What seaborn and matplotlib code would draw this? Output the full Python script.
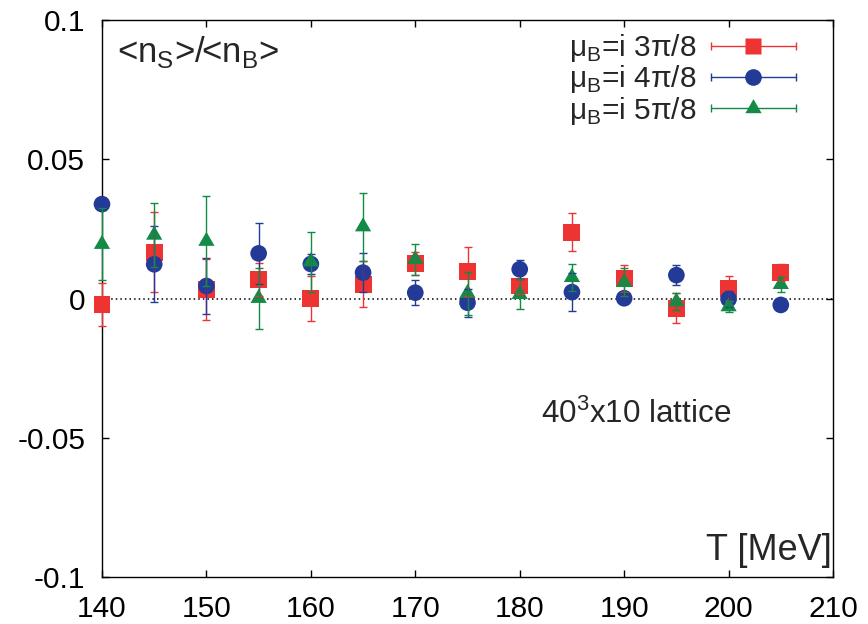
import numpy as np
import pandas as pd
import matplotlib
matplotlib.use("Agg")
import matplotlib.pyplot as plt
import seaborn as sns
from matplotlib.lines import Line2D
from matplotlib.legend_handler import HandlerBase

# temperatures and the three imaginary chemical potentials
temps = [140, 145, 150, 155, 160, 165, 170, 175, 180, 185, 190, 195, 200, 205]

ratio_3pi8 = [-0.0021, 0.0166, 0.0033, 0.0069, 0.0000, 0.0051, 0.0126,
              0.0098, 0.0045, 0.0238, 0.0072, -0.0035, 0.0037, 0.0094]
err_3pi8 = [0.0078, 0.0143, 0.0109, 0.0060, 0.0081, 0.0083, 0.0040,
            0.0088, 0.0030, 0.0069, 0.0050, 0.0054, 0.0045, 0.0030]

ratio_4pi8 = [0.0339, 0.0123, 0.0045, 0.0162, 0.0124, 0.0093, 0.0021,
              -0.0015, 0.0105, 0.0023, 0.0001, 0.0084, -0.0002, -0.0023]
err_4pi8 = [0.0020, 0.0136, 0.0102, 0.0110, 0.0036, 0.0070, 0.0045,
            0.0050, 0.0034, 0.0068, 0.0020, 0.0035, 0.0030, 0.0010]

ratio_5pi8 = [0.0195, 0.0228, 0.0206, 0.0001, 0.0132, 0.0258, 0.0141,
              0.0019, 0.0015, 0.0076, 0.0058, -0.0011, -0.0029, 0.0051]
err_5pi8 = [0.0130, 0.0116, 0.0162, 0.0110, 0.0107, 0.0122, 0.0056,
            0.0077, 0.0054, 0.0049, 0.0050, 0.0030, 0.0020, 0.0027]

labels = ["μ$_\\mathregular{B}$=i 3π/8", "μ$_\\mathregular{B}$=i 4π/8", "μ$_\\mathregular{B}$=i 5π/8"]
colors = ["#ee3333", "#233a96", "#138a45"]
markers = ["s", "o", (3, 0, 0)]
sizes = [12.2, 12.0, 13.5]

xticks = [140, 150, 160, 170, 180, 190, 200, 210]
yticks = [-0.1, -0.05, 0, 0.05, 0.1]
ytick_labels = ["-0.1", "-0.05", "0", "0.05", "0.1"]

FS = 21.5

sns.set_theme(style="ticks")
plt.rcParams["font.family"] = ["Liberation Sans", "DejaVu Sans"]
plt.rcParams["mathtext.fontset"] = "custom"
plt.rcParams["mathtext.rm"] = "Liberation Sans"
plt.rcParams["axes.unicode_minus"] = False

df = pd.concat([
    pd.DataFrame({"T": temps, "ratio": r, "err": e, "series": lab})
    for r, e, lab in zip([ratio_3pi8, ratio_4pi8, ratio_5pi8],
                         [err_3pi8, err_4pi8, err_5pi8], labels)
], ignore_index=True)

fig = plt.figure(figsize=(8.68, 6.24), dpi=100)
ax = fig.add_axes([0.1175, 0.0753, 0.8422, 0.8926])

ax.axhline(0, color="black", ls=(0, (1, 2)), lw=1.1, zorder=0)

for lab, col, mk, ms in zip(labels, colors, markers, sizes):
    sub = df[df["series"] == lab]
    sns.scatterplot(data=sub, x="T", y="ratio", ax=ax, color=col, marker=mk,
                    s=ms ** 2, edgecolor="none", linewidth=0, legend=False,
                    zorder=3, clip_on=False)
    ax.errorbar(sub["T"], sub["ratio"], yerr=sub["err"], fmt="none", ecolor=col,
                elinewidth=1.0, capsize=2.9, capthick=1.0, zorder=4, clip_on=False)


class HandlerHBar(HandlerBase):
    # gnuplot-style key: horizontal bar with end caps and the point in the middle
    def create_artists(self, legend, orig_handle, xdescent, ydescent, width, height,
                       fontsize, trans):
        y = height / 2 - ydescent
        x0, x1 = -xdescent, width - xdescent
        col = orig_handle.get_color()
        bar = Line2D([x0, x1], [y, y], color=col, lw=1.0)
        caps = Line2D([x0, x1], [y, y], color=col, ls="none", marker="|", ms=5.8, mew=1.0)
        pt = Line2D([(x0 + x1) / 2], [y], color=col, ls="none", marker=orig_handle.get_marker(),
                    ms=orig_handle.get_markersize(), mec="none")
        for a in (bar, caps, pt):
            a.set_transform(trans)
        return [bar, caps, pt]


handles = [Line2D([], [], color=c, marker=m, ms=s) for c, m, s in zip(colors, markers, sizes)]
ax.legend(handles, labels, handler_map={Line2D: HandlerHBar()}, loc="upper right",
          bbox_to_anchor=(0.978, 1.016), markerfirst=False, frameon=False, fontsize=FS,
          handlelength=2.85, handletextpad=0.5, labelspacing=-0.02, borderpad=0.2)

ax.set_xlim(140, 210)
ax.set_ylim(-0.1, 0.1)
ax.set_xticks(xticks)
ax.set_yticks(yticks)
ax.set_yticklabels(ytick_labels)
ax.set_xlabel("")
ax.set_ylabel("")
ax.tick_params(direction="in", length=5, width=1.0, top=True, right=True,
               labelsize=FS, colors="black")
ax.tick_params(axis="y", pad=12)
ax.tick_params(axis="x", pad=13)
for sp in ax.spines.values():
    sp.set_visible(True)
    sp.set_linewidth(1.0)
    sp.set_color("black")

ax.text(0.0205, 0.9246, "<n$_\\mathregular{S}$>/<n$_\\mathregular{B}$>", transform=ax.transAxes,
        fontsize=25, va="baseline", ha="left")
ax.text(0.6005, 0.2765, "40$^\\mathregular{3}$x10 lattice", transform=ax.transAxes,
        fontsize=22.6, va="baseline", ha="left")
ax.text(0.999, 0.0305, "T [MeV]", transform=ax.transAxes, fontsize=26,
        va="baseline", ha="right")

fig.savefig("out.png", dpi=100)
